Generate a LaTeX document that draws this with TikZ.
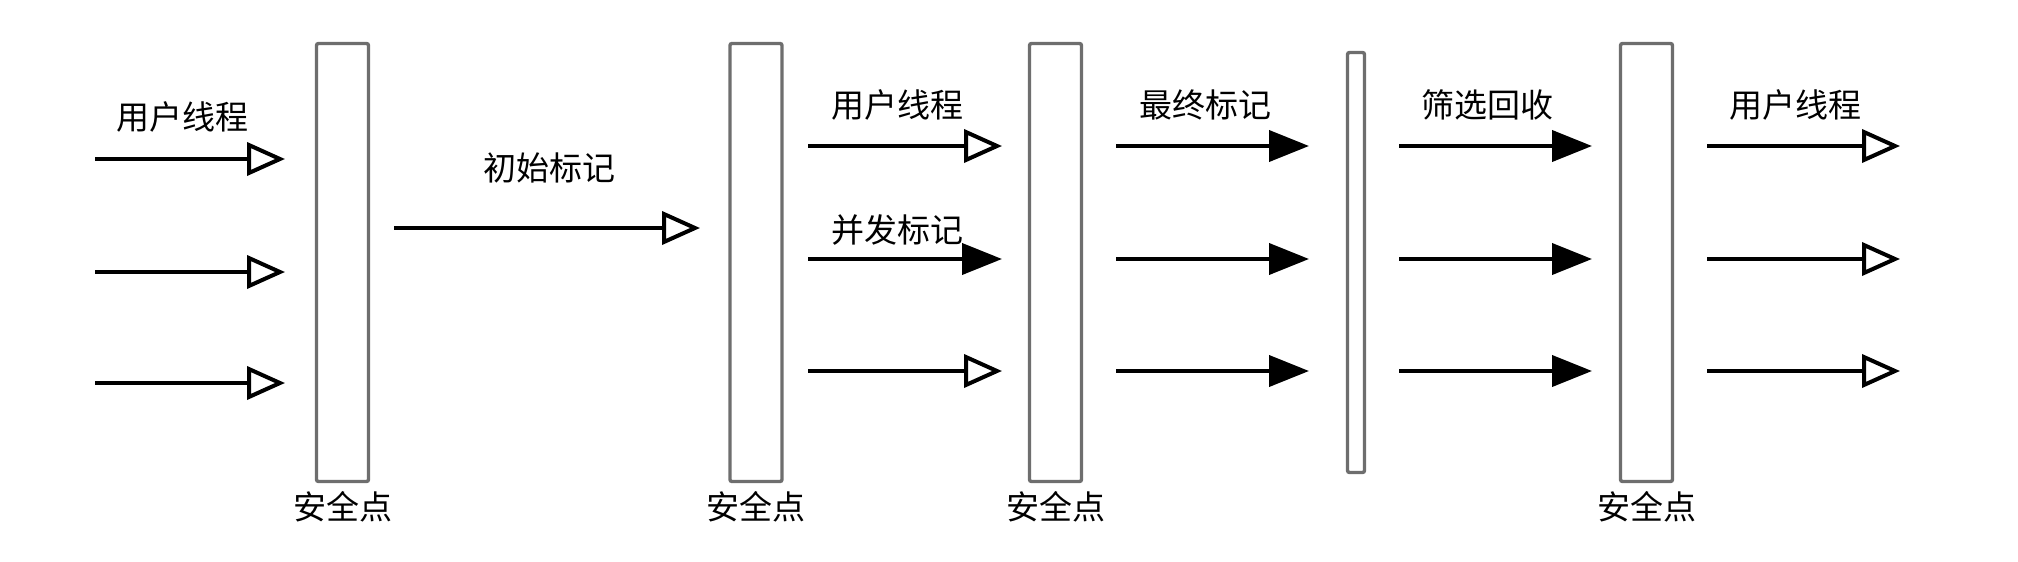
\documentclass[tikz,border=0pt]{standalone}
\usepackage{fontspec}
\newfontfamily\cjk{Noto Sans CJK SC}
\usepackage{xcolor}
\usetikzlibrary{arrows.meta,positioning}
\definecolor{bargray}{RGB}{110,110,110}

\begin{document}
\begin{tikzpicture}[
    x=0.5pt, y=-0.5pt,
    bar/.style={rectangle, draw=bargray, line width=1.7pt, fill=white, rounded corners=1pt, minimum width=26pt, minimum height=219pt, inner sep=0pt},
    thinbar/.style={bar, minimum width=8.5pt, minimum height=210pt},
    lbl/.style={font=\cjk\fontsize{16.5pt}{20pt}\selectfont, inner sep=0pt},
    thread/.style={-{Triangle[open, length=19pt, width=16.5pt]}, line width=2pt},
    gcmark/.style={-{Triangle[length=20pt, width=15.5pt]}, line width=2pt}
]
    \useasboundingbox (0,0) rectangle (2018,562);

    % safepoints
    \node[bar] (sp1) at (342.5,262.5) {};
    \node[bar] (sp2) at (756,262.5) {};
    \node[bar] (sp3) at (1055.5,262.5) {};
    \node[thinbar] (remark) at (1356,262.5) {};
    \node[bar] (sp5) at (1646.5,262.5) {};

    \foreach \b in {sp1,sp2,sp3,sp5}
        \node[lbl] (\b txt) at (\b.center |- 0,507) {安全点};

    % labels
    \node[lbl] (user1) at (182,117) {用户线程};
    \node[lbl] (initmark) at (549,168) {初始标记};
    \node[lbl] (user2) at (897,105) {用户线程};
    \node[lbl] (concmark) at (897,230) {并发标记};
    \node[lbl] (finalmark) at (1205,105) {最终标记};
    \node[lbl] (cleanup) at (1487,105) {筛选回收};
    \node[lbl] (user3) at (1795,105) {用户线程};

    % user threads before the first safepoint
    \foreach \y [count=\i] in {159,272,383} {
        \coordinate (a\i) at (95,\y);
        \coordinate (b\i) at (285,\y);
        \draw[thread] (a\i) -- (b\i);
    }

    \coordinate (init s) at (394,228);
    \coordinate (init e) at (700,228);
    \draw[thread] (init s) -- (init e);

    % concurrent phase
    \foreach \y/\st [count=\i] in {146/thread,259/gcmark,371/thread} {
        \coordinate (c\i) at (808,\y);
        \coordinate (d\i) at (1002,\y);
        \draw[\st] (c\i) -- (d\i);
    }

    % final mark and cleanup
    \foreach \y [count=\i] in {146,259,371} {
        \coordinate (e\i) at (1116,\y);
        \coordinate (f\i) at (1309,\y);
        \draw[gcmark] (e\i) -- (f\i);
        \coordinate (g\i) at (1399,\y);
        \coordinate (h\i) at (1592,\y);
        \draw[gcmark] (g\i) -- (h\i);
        \coordinate (k\i) at (1707,\y);
        \coordinate (l\i) at (1900,\y);
        \draw[thread] (k\i) -- (l\i);
    }
\end{tikzpicture}
\end{document}
